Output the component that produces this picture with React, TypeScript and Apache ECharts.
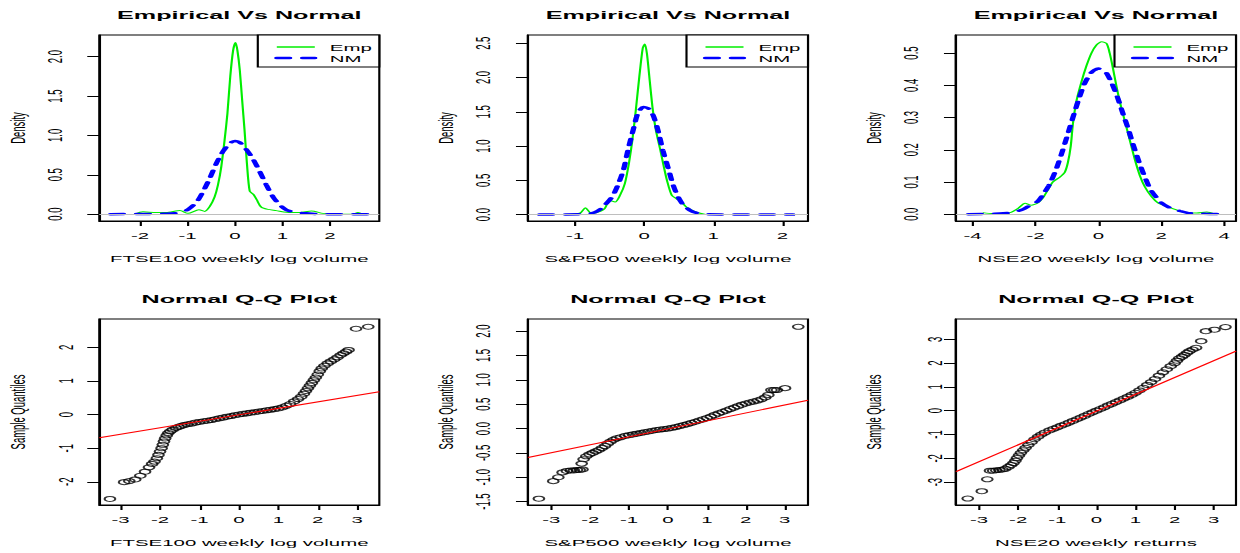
import React, { useEffect, useRef } from "react";
import * as echarts from "echarts";

// The source picture is a base R figure stretched horizontally; we draw it
// at natural proportions and stretch the whole chart the same way.
const STRETCH = 2.15;
const CHART_W = 1240 / STRETCH;
const CHART_H = 553;
const FONT = "'Liberation Sans', Arial, Helvetica, sans-serif";

// ---------------- density panels (Empirical vs Normal) ----------------
const ftseEmpX = [-2.11,-1.94,-1.66,-1.45,-1.16,-0.99,-0.76,-0.64,-0.53,-0.43,-0.36,-0.29,-0.22,-0.16,-0.1,-0.04,0.01,0.05,0.1,0.15,0.2,0.25,0.31,0.39,0.46,0.55,0.69,0.87,1.08,1.36,1.61,1.85,2.06,2.48,2.59,2.69];
const ftseEmpY = [0,0.03,0.02,0.02,0.045,0.01,0.055,0.035,0.1,0.22,0.37,0.6,0.94,1.28,1.75,2.08,2.18,2.08,1.83,1.45,1.07,0.65,0.29,0.25,0.18,0.09,0.06,0.045,0.025,0.02,0.04,0.01,0,0,0.02,0];
const ftseNmX = [-2.62,-1.45,-1.16,-0.99,-0.8,-0.67,-0.53,-0.39,-0.25,-0.11,0,0.1,0.24,0.38,0.52,0.66,0.8,0.94,1.08,1.29,1.5,1.78,2.84];
const ftseNmY = [0,0.005,0.02,0.06,0.16,0.29,0.46,0.65,0.8,0.9,0.93,0.91,0.82,0.7,0.54,0.37,0.22,0.12,0.055,0.02,0.01,0,0];

const spEmpX = [-1.1,-0.93,-0.85,-0.76,-0.67,-0.57,-0.5,-0.42,-0.35,-0.28,-0.22,-0.17,-0.12,-0.07,-0.02,0.01,0.04,0.08,0.12,0.17,0.23,0.28,0.33,0.4,0.47,0.54,0.61,0.71,0.81,0.9];
const spEmpY = [0,0.02,0.1,0.015,0.035,0.09,0.21,0.185,0.28,0.45,0.75,1.09,1.53,2.01,2.43,2.49,2.35,1.96,1.57,1.23,0.96,0.72,0.5,0.28,0.23,0.185,0.11,0.055,0.02,0];
const spNmX = [-1.51,-0.83,-0.71,-0.62,-0.52,-0.45,-0.38,-0.3,-0.23,-0.16,-0.09,-0.01,0.06,0.13,0.2,0.27,0.35,0.42,0.49,0.56,0.66,0.76,0.9,2.15];
const spNmY = [0,0.01,0.035,0.09,0.19,0.28,0.43,0.65,0.96,1.23,1.48,1.57,1.55,1.45,1.23,0.94,0.67,0.43,0.26,0.15,0.065,0.025,0.005,0];

const nseEmpX = [-3.68,-3.36,-3.04,-2.78,-2.56,-2.33,-2.14,-1.93,-1.77,-1.61,-1.45,-1.23,-1.07,-0.97,-0.88,-0.81,-0.7,-0.54,-0.38,-0.22,-0.06,0.11,0.26,0.36,0.47,0.57,0.68,0.84,1.0,1.16,1.32,1.48,1.69,1.9,2.17,2.44,2.76,3.13,3.45,3.71];
const nseEmpY = [0.005,0.002,0.002,0.006,0.018,0.034,0.028,0.035,0.05,0.075,0.1,0.115,0.13,0.16,0.21,0.28,0.35,0.41,0.46,0.5,0.525,0.535,0.53,0.5,0.45,0.4,0.35,0.29,0.23,0.17,0.12,0.085,0.055,0.035,0.025,0.015,0.005,0.004,0.007,0];
const nseNmX = [-4.13,-3.15,-2.78,-2.4,-2.14,-1.93,-1.77,-1.57,-1.36,-1.18,-1.0,-0.81,-0.63,-0.44,-0.22,0,0.2,0.41,0.6,0.79,0.95,1.11,1.32,1.48,1.64,1.8,2.01,2.28,2.6,2.91,4.09];
const nseNmY = [0,0.002,0.005,0.015,0.03,0.04,0.06,0.09,0.135,0.185,0.24,0.3,0.355,0.405,0.44,0.452,0.445,0.41,0.365,0.31,0.265,0.215,0.155,0.115,0.08,0.058,0.035,0.02,0.01,0.003,0];

// ---------------- Normal Q-Q panels ----------------
const ftseQQX = [-3.27,-2.91,-2.78,-2.63,-2.5,-2.38,-2.28,-2.2,-2.14,-2.08,-2.04,-2.0,-1.96,-1.93,-1.9,-1.87,-1.83,-1.79,-1.74,-1.68,-1.6,-1.53,-1.46,-1.38,-1.3,-1.2,-1.1,-1.0,-0.9,-0.8,-0.7,-0.6,-0.5,-0.4,-0.3,-0.2,-0.1,0,0.1,0.2,0.3,0.4,0.5,0.6,0.7,0.8,0.9,1.0,1.1,1.2,1.3,1.4,1.5,1.58,1.65,1.7,1.75,1.8,1.85,1.9,1.95,2.0,2.05,2.1,2.17,2.25,2.33,2.42,2.5,2.58,2.65,2.72,2.78,2.97,3.28];
const ftseQQY = [-2.51,-2.01,-1.98,-1.93,-1.82,-1.7,-1.57,-1.47,-1.4,-1.3,-1.2,-1.1,-1.0,-0.9,-0.8,-0.71,-0.62,-0.55,-0.5,-0.45,-0.4,-0.37,-0.34,-0.31,-0.29,-0.27,-0.24,-0.22,-0.2,-0.185,-0.165,-0.14,-0.115,-0.09,-0.065,-0.045,-0.02,0,0.02,0.035,0.055,0.07,0.09,0.105,0.125,0.14,0.16,0.18,0.21,0.26,0.31,0.39,0.46,0.53,0.62,0.7,0.78,0.86,0.94,1.02,1.1,1.19,1.29,1.37,1.45,1.52,1.58,1.64,1.7,1.77,1.82,1.87,1.92,2.55,2.61];

const spQQX = [-3.32,-2.95,-2.82,-2.71,-2.6,-2.5,-2.42,-2.34,-2.27,-2.2,-2.22,-2.17,-2.1,-2.02,-1.94,-1.86,-1.78,-1.7,-1.62,-1.55,-1.48,-1.4,-1.32,-1.22,-1.1,-1.0,-0.9,-0.8,-0.7,-0.6,-0.5,-0.4,-0.3,-0.2,-0.1,0,0.1,0.2,0.3,0.4,0.5,0.6,0.7,0.8,0.9,1.0,1.1,1.2,1.3,1.4,1.5,1.6,1.7,1.8,1.9,2.0,2.1,2.2,2.3,2.4,2.5,2.58,2.66,2.73,2.8,3.01,3.35];
const spQQY = [-1.44,-1.08,-1.0,-0.9,-0.87,-0.86,-0.86,-0.85,-0.85,-0.84,-0.72,-0.63,-0.57,-0.53,-0.5,-0.47,-0.44,-0.4,-0.36,-0.31,-0.27,-0.23,-0.2,-0.18,-0.15,-0.135,-0.12,-0.105,-0.09,-0.075,-0.06,-0.045,-0.03,-0.02,-0.01,0,0.015,0.03,0.05,0.07,0.09,0.115,0.14,0.165,0.19,0.215,0.245,0.28,0.31,0.34,0.37,0.4,0.43,0.46,0.49,0.515,0.535,0.555,0.575,0.6,0.64,0.69,0.79,0.79,0.79,0.83,2.09];

const nseQQX = [-3.29,-2.93,-2.79,-2.72,-2.64,-2.56,-2.48,-2.4,-2.33,-2.25,-2.18,-2.12,-2.07,-2.03,-1.98,-1.93,-1.87,-1.81,-1.74,-1.66,-1.58,-1.49,-1.41,-1.32,-1.2,-1.1,-1.0,-0.9,-0.8,-0.7,-0.6,-0.5,-0.4,-0.3,-0.2,-0.1,0,0.1,0.2,0.3,0.4,0.5,0.6,0.7,0.8,0.9,1.0,1.1,1.2,1.3,1.4,1.5,1.6,1.7,1.8,1.9,2.0,2.06,2.12,2.19,2.25,2.32,2.38,2.46,2.55,2.68,2.8,3.02,3.3];
const nseQQY = [-3.69,-3.38,-2.88,-2.52,-2.52,-2.5,-2.49,-2.47,-2.44,-2.36,-2.28,-2.2,-2.1,-1.99,-1.88,-1.77,-1.66,-1.56,-1.44,-1.32,-1.2,-1.09,-1.0,-0.92,-0.83,-0.76,-0.7,-0.63,-0.57,-0.5,-0.43,-0.36,-0.29,-0.22,-0.14,-0.07,0,0.07,0.14,0.22,0.29,0.36,0.43,0.51,0.58,0.66,0.75,0.85,0.96,1.08,1.2,1.33,1.47,1.61,1.74,1.87,1.99,2.1,2.2,2.27,2.34,2.43,2.5,2.57,2.64,2.92,3.34,3.4,3.51];

// qqline (intercept, slope)
const ftseQQLine = [-0.01, 0.193];
const spQQLine = [-0.007, 0.1636];
const nseQQLine = [-0.02, 0.707];

// ---------------- ticks ----------------
const ftseDensXTicks = [-2, -1, 0, 1, 2];
const ftseDensYTicks = [0, 0.5, 1, 1.5, 2];
const spDensXTicks = [-1, 0, 1, 2];
const spDensYTicks = [0, 0.5, 1, 1.5, 2, 2.5];
const nseDensXTicks = [-4, -2, 0, 2, 4];
const nseDensYTicks = [0, 0.1, 0.2, 0.3, 0.4, 0.5];
const qqXTicks = [-3, -2, -1, 0, 1, 2, 3];
const ftseQQYTicks = [-2, -1, 0, 1, 2];
const spQQYTicks = [-1.5, -1, -0.5, 0, 0.5, 1, 1.5, 2];
const nseQQYTicks = [-3, -2, -1, 0, 1, 2, 3];

const zip = (xs: number[], ys: number[]) => xs.map((x, i) => [x, ys[i]]);
const px = (v: number) => v / STRETCH;

const fmt1 = (v: number) => v.toFixed(1);
const fmt0 = (v: number) => String(Math.round(v));

type Panel = {
  kind: "dens" | "qq";
  left: number;
  top: number;
  xr: number[];
  yr: number[];
  xTicks: number[];
  yTicks: number[];
  yFmt: (v: number) => string;
  xName: string;
  yName: string;
  yLabMargin: number;
  title: string;
  a?: number[][];
  b?: number[][];
  line?: number[];
};

const GW = px(280);
const GH = 186;

const panels: Panel[] = [
  { kind: "dens", left: px(99.3), top: 35, xr: [-2.86, 3.04], yr: [-0.087, 2.275], xTicks: ftseDensXTicks, yTicks: ftseDensYTicks, yFmt: fmt1, xName: "FTSE100 weekly log volume", yName: "Density", yLabMargin: 15.5, title: "Empirical Vs Normal", a: zip(ftseEmpX, ftseEmpY), b: zip(ftseNmX, ftseNmY) },
  { kind: "dens", left: px(528), top: 35, xr: [-1.68, 2.37], yr: [-0.093, 2.62], xTicks: spDensXTicks, yTicks: spDensYTicks, yFmt: fmt1, xName: "S&P500 weekly log volume", yName: "Density", yLabMargin: 15.8, title: "Empirical Vs Normal", a: zip(spEmpX, spEmpY), b: zip(spNmX, spNmY) },
  { kind: "dens", left: px(956), top: 35, xr: [-4.53, 4.38], yr: [-0.021, 0.556], xTicks: nseDensXTicks, yTicks: nseDensYTicks, yFmt: fmt1, xName: "NSE20 weekly log volume", yName: "Density", yLabMargin: 15.8, title: "Empirical Vs Normal", a: zip(nseEmpX, nseEmpY), b: zip(nseNmX, nseNmY) },
  { kind: "qq", left: px(99.3), top: 319, xr: [-3.54, 3.56], yr: [-2.69, 2.84], xTicks: qqXTicks, yTicks: ftseQQYTicks, yFmt: fmt0, xName: "FTSE100 weekly log volume", yName: "Sample Quantiles", yLabMargin: 10.4, title: "Normal Q-Q Plot", a: zip(ftseQQX, ftseQQY), line: ftseQQLine },
  { kind: "qq", left: px(528), top: 319, xr: [-3.6, 3.6], yr: [-1.57, 2.25], xTicks: qqXTicks, yTicks: spQQYTicks, yFmt: fmt1, xName: "S&P500 weekly log volume", yName: "Sample Quantiles", yLabMargin: 15.8, title: "Normal Q-Q Plot", a: zip(spQQX, spQQY), line: spQQLine },
  { kind: "qq", left: px(956), top: 319, xr: [-3.59, 3.57], yr: [-3.96, 3.85], xTicks: qqXTicks, yTicks: nseQQYTicks, yFmt: fmt0, xName: "NSE20 weekly returns", yName: "Sample Quantiles", yLabMargin: 5, title: "Normal Q-Q Plot", a: zip(nseQQX, nseQQY), line: nseQQLine },
];

const labelStyle = { color: "#000", fontSize: 9.5, fontFamily: FONT };

function buildOption() {
  const grid: any[] = [];
  const xAxis: any[] = [];
  const yAxis: any[] = [];
  const series: any[] = [];
  const graphic: any[] = [];

  panels.forEach((p, i) => {
    grid.push({
      left: p.left, top: p.top, width: GW, height: GH,
      show: true, borderColor: "#000", borderWidth: 1, backgroundColor: "transparent",
    });
    xAxis.push({
      type: "value", gridIndex: i, min: p.xr[0], max: p.xr[1], position: "bottom",
      axisLine: { show: true, onZero: false, lineStyle: { color: "#000", width: 1 } }, splitLine: { show: false },
      axisTick: { show: true, inside: false, length: 5, lineStyle: { color: "#000", width: 1 }, customValues: p.xTicks },
      axisLabel: { show: true, customValues: p.xTicks, formatter: fmt0, margin: 10, ...labelStyle },
      name: p.xName, nameLocation: "middle", nameGap: 33,
      nameTextStyle: { ...labelStyle },
    });
    yAxis.push({
      type: "value", gridIndex: i, min: p.yr[0], max: p.yr[1], position: "left",
      axisLine: { show: true, onZero: false, lineStyle: { color: "#000", width: 1 } }, splitLine: { show: false },
      axisTick: { show: true, inside: false, length: 5.6, lineStyle: { color: "#000", width: 1 }, customValues: p.yTicks },
      axisLabel: { show: true, customValues: p.yTicks, formatter: p.yFmt, rotate: 90, margin: p.yLabMargin, ...labelStyle },
      name: p.yName, nameLocation: "middle", nameGap: 33, nameRotate: 90,
      nameTextStyle: { ...labelStyle },
    });

    const cx = p.left + GW / 2;
    graphic.push({
      type: "text", x: cx, y: p.top - 20, z: 100,
      style: { text: p.title, fill: "#000", fontSize: 11.7, fontWeight: "bold", fontFamily: FONT,
        textAlign: "center", textVerticalAlign: "middle", align: "center", verticalAlign: "middle" },
    });

    if (p.kind === "dens") {
      series.push({
        type: "line", name: "Emp", xAxisIndex: i, yAxisIndex: i, data: p.a,
        symbol: "none", smooth: 0.25, silent: true,
        lineStyle: { color: "#00EE00", width: 1 },
        markLine: {
          silent: true, symbol: "none", label: { show: false },
          lineStyle: { color: "#BEBEBE", width: 1, type: "solid" },
          data: [{ yAxis: 0 }],
        },
      });
      series.push({
        type: "line", name: "NM", xAxisIndex: i, yAxisIndex: i, data: p.b,
        symbol: "none", smooth: 0.25, silent: true,
        lineStyle: { color: "#0000FF", width: 2.5, type: [6, 6], cap: "round" },
      });
      // legend box
      const lw = px(121.5);
      const x0 = p.left + GW - lw;
      const y0 = p.top;
      graphic.push({ type: "rect", z: 100, shape: { x: x0, y: y0, width: lw, height: 32 }, style: { fill: "#fff", stroke: "#000", lineWidth: 1 } });
      graphic.push({ type: "line", z: 101, shape: { x1: x0 + px(19), y1: y0 + 12, x2: x0 + px(57), y2: y0 + 12 }, style: { stroke: "#00EE00", lineWidth: 1.3 } });
      graphic.push({ type: "line", z: 101, shape: { x1: x0 + px(19), y1: y0 + 23, x2: x0 + px(57), y2: y0 + 23 }, style: { stroke: "#0000FF", lineWidth: 2.5, lineDash: [6, 6], lineCap: "round" } });
      graphic.push({ type: "text", z: 101, x: x0 + px(72), y: y0 + 12.5, style: { text: "Emp", fill: "#000", fontSize: 9.5, fontFamily: FONT, textAlign: "left", textVerticalAlign: "middle", align: "left", verticalAlign: "middle" } });
      graphic.push({ type: "text", z: 101, x: x0 + px(72), y: y0 + 23.5, style: { text: "NM", fill: "#000", fontSize: 9.5, fontFamily: FONT, textAlign: "left", textVerticalAlign: "middle", align: "left", verticalAlign: "middle" } });
    } else {
      series.push({
        type: "scatter", name: "Sample", xAxisIndex: i, yAxisIndex: i, data: p.a,
        symbol: "circle", symbolSize: 5, silent: true,
        itemStyle: { color: "rgba(0,0,0,0)", borderColor: "#000", borderWidth: 1 },
      });
      const [ic, sl] = p.line as number[];
      series.push({
        type: "line", name: "qqline", xAxisIndex: i, yAxisIndex: i, symbol: "none", silent: true,
        data: [[p.xr[0], ic + sl * p.xr[0]], [p.xr[1], ic + sl * p.xr[1]]],
        lineStyle: { color: "#FF0000", width: 1 }, z: 3,
      });
    }
  });

  return {
    animation: false,
    backgroundColor: "#fff",
    textStyle: { fontFamily: FONT },
    grid, xAxis, yAxis, series, graphic,
  };
}

export default function App() {
  const ref = useRef<HTMLDivElement>(null);
  useEffect(() => {
    if (!ref.current) return;
    const chart = echarts.init(ref.current, undefined, { renderer: "svg" });
    chart.setOption(buildOption() as any);
    return () => chart.dispose();
  }, []);
  return (
    <div style={{ position: "fixed", left: 0, top: 0, width: 1240, height: 553, overflow: "hidden", background: "#fff" }}>
      <div
        ref={ref}
        style={{ width: CHART_W, height: CHART_H, transform: `scaleX(${STRETCH})`, transformOrigin: "0 0" }}
      />
    </div>
  );
}
